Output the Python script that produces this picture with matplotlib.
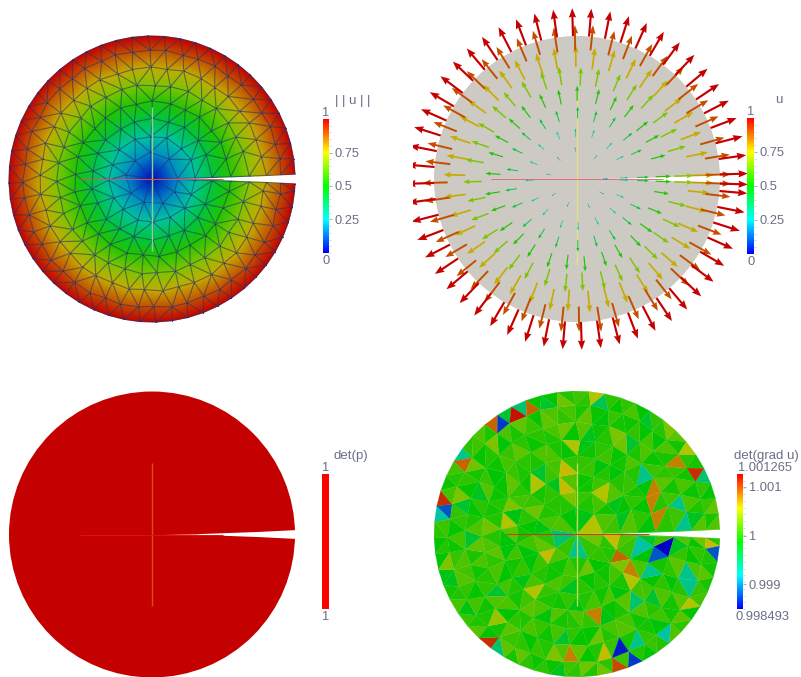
import matplotlib
matplotlib.use("Agg")
import matplotlib.pyplot as plt
import matplotlib.tri as mtri
from matplotlib.colors import LinearSegmentedColormap, Normalize
from matplotlib.patches import Polygon, Circle
import numpy as np

W, H = 801, 677

# mesh rings
ring_r = [0, .18, .30, .42, .54, .66, .78, .90, 1.0]
ring_n = [1, 9, 16, 22, 29, 35, 41, 48, 56]
ring_offset = [0, .3, .1, .5, .2, .6, .35, .15, .25]
ring_u = [0, .18, .30, .42, .54, .66, .78, .90, 1.0]
wobble = [.006, -.005, .002, .007, -.007, .004, -.002, -.008, .005, .001, -.004, .006, -.005]

crack_x = [.18, .3, .42, .55, .68, .8, .9, .9995]
crack_half = [.003, .007, .011, .016, .020, .024, .028, .032]
crack_u = [.18, .3, .42, .55, .68, .8, .9, 1.0]

bar_colors = ["#0000ff", "#00ffff", "#00ff00", "#ffff00", "#ff0000"]
surf_colors = ["#0000c4", "#00c4c4", "#00c400", "#c4c400", "#c40000"]
disc_grey = "#cdc9c3"
det_p = 1.0

# colourbar ticks
u_ticks = [.25, .5, .75]
u_labels = ["0.25", "0.5", "0.75"]
det_min, det_max = 0.998493, 1.001265
det_ticks = [.999, 1, 1.001]
det_labels = ["0.999", "1", "1.001"]

# det(grad u) of ordinary cells, and the cells that stand out
det_base = [1.00002, .99992, 1.00008, .99998, 1.00014, .99988, 1.00004, 1.0002, .99995, 1.0001,
            .99985, 1.00001, 1.00016, .99994, 1.00006, .99982, 1.00012, .99999, 1.00026, .9999,
            1.00003, 1.00009, .99978, 1.00018, .99996, 1.00007, .99986, 1.00032, 1.00, .99993,
            1.00011, .99989, 1.00005, .99972, 1.00015, .99997, 1.00022]
spot_x = [-.544, -.557, -.37, -.35, -.375, -.813, -.813, -.94, -.94, -.963, -.94, .855, .655, .755, .858,
          .494, .156, -.107, .51, .709, .527, .552, .716, .044, -.154, -.02, -.096, .499, .562, .62, .552,
          .329, .277, .343, .543, .949, .965, .809, .767, .809, .161, .422, -.62, -.55, .608, .261, .277,
          .172, .436, -.091, .399, .091, .149, .725, -.212, -.259, -.55, -.014, -.072, -.263, -.497, .394]
spot_y = [.816, .746, .832, .909, .867, .529, .466, .249, .191, .149, .098, .459, .483, .618, .385,
          .273, .249, .336, .417, .219, .191, .051, .051, .033, -.065, -.058, -.035, -.072, -.082, -.065, -.152,
          -.147, -.058, -.252, -.24, -.065, -.1, -.35, -.368, -.28, -.55, -.503, -.746, -.753, -.713, -.846, -.909,
          -.834, -.881, -.893, -.8, .937, .937, -.531, -.159, -.373, -.613, .65, .452, .354, .11, -.345]
spot_v = [.9987, 1.0009, 1.0012, 1.0009, .9995, .9994, 1.0009, 1.0011, .9988, 1.0011, .9993, 1.0011, 1.0008, 1.0005, .9995,
          1.0008, 1.0005, 1.0006, .9994, .9994, 1.0008, 1.0008, .9994, 1.0005, 1.0007, .9994, .9995, .9993, 1.0011, .9985, .9988,
          1.0009, 1.0006, 1.0008, .9994, 1.0006, .9988, 1.0012, .9994, .9994, 1.0008, .9995, 1.0011, .9995, .9993, .9986, 1.001,
          1.0006, .9987, 1.0008, .9994, 1.0005, .9996, 1.0005, 1.0006, 1.0005, 1.0004, 1.0005, 1.0006, 1.0005, 1.0005, 1.0005]

TEXT = "#6a6f85"
plt.rcParams["font.family"] = ["Liberation Sans", "DejaVu Sans"]
bar_cmap = LinearSegmentedColormap.from_list("bar", bar_colors)
surf_cmap = LinearSegmentedColormap.from_list("surf", surf_colors)


def build_nodes():
    xs, ys, us = [], [], []
    k = 0
    for r, n, off, u in zip(ring_r, ring_n, ring_offset, ring_u):
        for i in range(n):
            a = 2 * np.pi * (i + off) / n
            rr = r
            if 0 < r < 1:
                rr = r + wobble[k % len(wobble)]
                a = a + wobble[(k + 5) % len(wobble)] / max(r, .2)
            k += 1
            x, y = rr * np.cos(a), rr * np.sin(a)
            if x > .1 and abs(y) < .065:
                continue
            xs.append(x)
            ys.append(y)
            us.append(u)
    for x, h, u in zip(crack_x, crack_half, crack_u):
        xs += [x, x]
        ys += [h, -h]
        us += [u, u]
    return np.array(xs), np.array(ys), np.array(us)


def disc_axes(fig, cx, cy, left=-1.2, right=1.2, r=143):
    # axes placed so that one data unit is r pixels and (0,0) is at (cx, cy)
    top = 1.22
    ax = fig.add_axes([(cx + left * r) / W, 1 - (cy + top * r) / H, (right - left) * r / W, 2 * top * r / H])
    ax.set_xlim(left, right)
    ax.set_ylim(-top, top)
    ax.axis("off")
    return ax


def crack(ax, vcolor, hcolor, reach):
    ax.add_patch(Polygon([[.08, 0], [.31, .002], [.5, .009], [.75, .018], [1.03, .032],
                          [1.03, -.032], [.75, -.018], [.5, -.009], [.31, -.002]],
                         fc="white", ec="none", zorder=3))
    ax.plot([0, 0], [-reach, reach], color=vcolor, lw=1.0, zorder=4, solid_capstyle="butt")
    ax.plot([-reach, reach], [0, 0], color=hcolor, lw=.7, zorder=4, solid_capstyle="butt")


def colorbar(fig, x0, x1, y0, y1, cmap, ticks, labels, vmin, vmax, title, title_x,
             top, bottom, top_x, bottom_x):
    ax = fig.add_axes([x0 / W, 1 - y1 / H, (x1 - x0) / W, (y1 - y0) / H])
    ax.imshow(np.linspace(1, 0, 256)[:, None], cmap=cmap, aspect="auto", extent=[0, 1, vmin, vmax],
              vmin=0, vmax=1)
    ax.set_xticks([])
    ax.set_yticks(ticks)
    ax.set_yticklabels(labels, fontsize=9.3, color=TEXT)
    ax.yaxis.tick_right()
    ax.tick_params(axis="y", length=2, width=.6, color="#9a9dac", pad=2, direction="out")
    if len(ticks):
        ax.set_yticks(np.linspace(vmin, vmax, 21), minor=True)
        ax.tick_params(axis="y", which="minor", length=1.2, width=.4, color="#b8bac6", direction="out")
    for s in ax.spines.values():
        s.set_visible(False)
    fig.text(title_x / W, 1 - (y0 - 18) / H, title, fontsize=9.5, color=TEXT, va="center", ha="left")
    fig.text(top_x / W, 1 - (y0 - 6) / H, top, fontsize=9.3, color=TEXT, va="center",
             ha="left" if len(top) > 1 else "center")
    fig.text(bottom_x / W, 1 - (y1 + 8) / H, bottom, fontsize=9.3, color=TEXT, va="center",
             ha="left" if len(bottom) > 1 else "center")


x, y, u = build_nodes()
tri = mtri.Triangulation(x, y)
norm01 = Normalize(0, 1)

fig = plt.figure(figsize=(W / 100, H / 100), dpi=100, facecolor="white")

# top left, |u| on the mesh
ax = disc_axes(fig, 152, 179)
ax.tripcolor(tri, u, shading="gouraud", cmap=surf_cmap, norm=norm01, zorder=1)
ax.triplot(tri, color="#26356a", lw=.8, alpha=.6, zorder=2)
ax.plot(x, y, ".", color="#141e6e", ms=1.2, mew=0, zorder=2)
crack(ax, "#8fd08f", "#d8506a", .5)
colorbar(fig, 323, 329, 119, 253, bar_cmap, u_ticks, u_labels, 0, 1, "| | u | |", 335, "1", "0", 326, 326)

# top right, arrows on grey disc
ax = disc_axes(fig, 577, 179, left=-1.147)
r_all = np.hypot(x, y)
keep = r_all > 0
ax.add_patch(Circle((0, 0), 1, fc=disc_grey, ec="none", zorder=1))
crack(ax, "#e4e08a", "#e0707a", .6)
for val in sorted(set(u[keep])):
    m = keep & (u == val)
    dx, dy = x[m] / r_all[m], y[m] / r_all[m]
    ax.quiver(x[m], y[m], dx * val * .195, dy * val * .195, color=surf_cmap(norm01(val)), angles="xy",
              scale_units="xy", scale=1, units="xy", width=.015 * val, headwidth=3.4, headlength=4.4,
              headaxislength=4.0, minlength=0, zorder=5)
colorbar(fig, 747, 754, 118, 254, bar_cmap, u_ticks, u_labels, 0, 1, "u", 775, "1", "0", 751, 751)

# bottom left, det(p)
ax = disc_axes(fig, 152, 534.5)
ax.add_patch(Circle((0, 0), 1, fc=surf_cmap(det_p), ec="none", zorder=1))
crack(ax, "#d8500f", "#e81010", .5)
red_only = LinearSegmentedColormap.from_list("red", ["#ff0000", "#ff0000"])
colorbar(fig, 322, 329, 474, 609, red_only, [], [], 0, 1, "det(p)", 334, "1", "1", 326, 326)

# bottom right, det(grad u) per cell
ax = disc_axes(fig, 577, 534)
cells = np.array([det_base[i % len(det_base)] for i in range(len(tri.triangles))])
finder = tri.get_trifinder()
for sx, sy, sv in zip(spot_x, spot_y, spot_v):
    t = int(finder(sx, sy))
    if t >= 0:
        cells[t] = sv
ax.tripcolor(tri, facecolors=cells, shading="flat", cmap=surf_cmap, norm=Normalize(det_min, det_max),
             edgecolors="face", linewidth=.15, zorder=1)
crack(ax, "#b8dc50", "#d83020", .5)
colorbar(fig, 737, 743, 474, 609, bar_cmap, det_ticks, det_labels, det_min, det_max, "det(grad u)", 734,
         "1.001265", "0.998493", 738, 735)

fig.savefig("out.png", dpi=100, facecolor="white")
